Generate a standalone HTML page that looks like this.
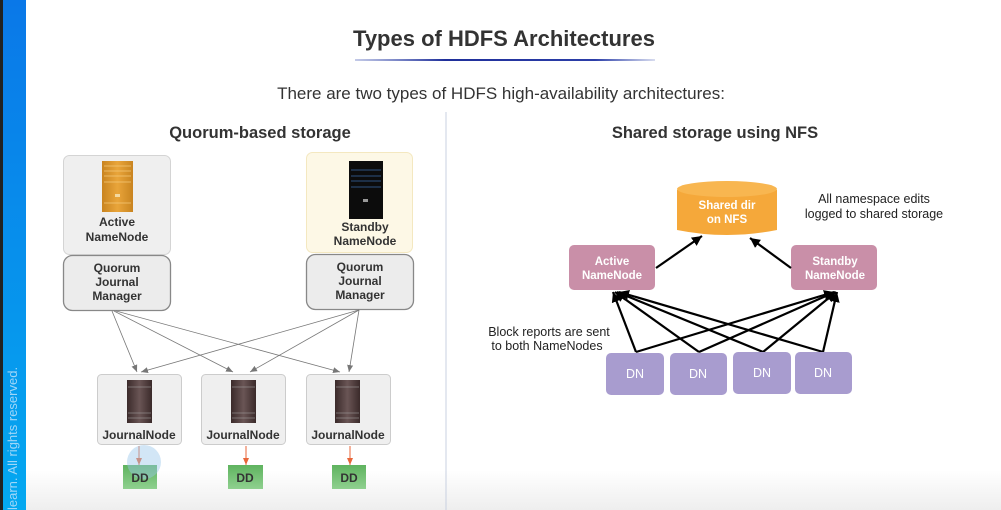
<!DOCTYPE html>
<html><head><meta charset="utf-8"><style>
html,body{margin:0;padding:0;width:1001px;height:510px;overflow:hidden;background:#fff;}
svg{display:block;font-family:"Liberation Sans",sans-serif;}
</style></head><body>
<svg width="1001" height="510" viewBox="0 0 1001 510" xmlns="http://www.w3.org/2000/svg">
<defs>
<linearGradient id="blue" x1="0" y1="0" x2="0" y2="1"><stop offset="0" stop-color="#0a78e8"/><stop offset="1" stop-color="#04a8f0"/></linearGradient>
<linearGradient id="ul" x1="0" x2="1"><stop offset="0" stop-color="#3a4fb0" stop-opacity="0.3"/><stop offset="0.3" stop-color="#1f2f9a"/><stop offset="0.8" stop-color="#2c3ea8"/><stop offset="1" stop-color="#3a4fb0" stop-opacity="0.2"/></linearGradient>
<linearGradient id="bot" x1="0" y1="0" x2="0" y2="1"><stop offset="0" stop-color="#fff"/><stop offset="1" stop-color="#eee"/></linearGradient>
<linearGradient id="orng" x1="0" x2="1"><stop offset="0" stop-color="#c98420"/><stop offset="0.5" stop-color="#e9a53a"/><stop offset="1" stop-color="#c98420"/></linearGradient>
<linearGradient id="jn" x1="0" x2="1"><stop offset="0" stop-color="#3a2a2a"/><stop offset="0.5" stop-color="#6a5555"/><stop offset="1" stop-color="#3a2a2a"/></linearGradient>
<linearGradient id="dd" x1="0" y1="0" x2="0" y2="1"><stop offset="0" stop-color="#5fb35f"/><stop offset="1" stop-color="#8fd08f"/></linearGradient>
<marker id="ag" markerWidth="8" markerHeight="8" refX="7" refY="4" orient="auto" markerUnits="userSpaceOnUse"><path d="M0,1 L7,4 L0,7 Z" fill="#777"/></marker>
<marker id="ao" markerWidth="8" markerHeight="8" refX="7" refY="4" orient="auto" markerUnits="userSpaceOnUse"><path d="M0,1 L7,4 L0,7 Z" fill="#e8663a"/></marker>
<marker id="ab" markerWidth="12" markerHeight="12" refX="10" refY="6" orient="auto" markerUnits="userSpaceOnUse"><path d="M0,1 L10,6 L0,11 Z" fill="#000"/></marker>
</defs>
<rect x="0" y="470" width="1001" height="40" fill="url(#bot)"/>
<rect x="0" y="0" width="3" height="510" fill="#222"/>
<rect x="3" y="0" width="23" height="510" fill="url(#blue)"/>
<text transform="translate(17,510) rotate(-90)" font-size="13" fill="#9fd6f8">learn. All rights reserved.</text>
<line x1="446" y1="112" x2="446" y2="510" stroke="#c8d0e0" stroke-width="1"/>

<text x="504" y="46" text-anchor="middle" font-size="22" font-weight="bold" fill="#333">Types of HDFS Architectures</text>
<rect x="355" y="59" width="300" height="2" fill="url(#ul)"/>
<text x="501" y="99" text-anchor="middle" font-size="17" fill="#333">There are two types of HDFS high-availability architectures:</text>
<text x="260" y="138" text-anchor="middle" font-size="16.5" font-weight="bold" fill="#333">Quorum-based storage</text>
<text x="715" y="138" text-anchor="middle" font-size="16.5" font-weight="bold" fill="#333">Shared storage using NFS</text>

<!-- left -->
<rect x="63.5" y="155.5" width="107" height="99" rx="6" fill="#efefef" stroke="#d4d4d4"/>
<rect x="102" y="161" width="31" height="51" fill="url(#orng)"/>
<g stroke="#f5c878" stroke-width="0.7"><line x1="104" y1="166" x2="131" y2="166"/><line x1="104" y1="171" x2="131" y2="171"/><line x1="104" y1="176" x2="131" y2="176"/><line x1="104" y1="182" x2="131" y2="182"/><line x1="104" y1="203" x2="131" y2="203"/></g>
<rect x="115" y="194" width="5" height="3" fill="#f4d9a0"/>
<text x="117" y="226" text-anchor="middle" font-size="12" font-weight="bold" fill="#333">Active</text>
<text x="117" y="241" text-anchor="middle" font-size="12" font-weight="bold" fill="#333">NameNode</text>
<rect x="63.5" y="255.5" width="107" height="55" rx="9" fill="#ececec" stroke="#888" stroke-width="1.3"/>
<text x="117" y="272" text-anchor="middle" font-size="12" font-weight="bold" fill="#333">Quorum</text>
<text x="117" y="286" text-anchor="middle" font-size="12" font-weight="bold" fill="#333">Journal</text>
<text x="117" y="300" text-anchor="middle" font-size="12" font-weight="bold" fill="#333">Manager</text>

<rect x="306.5" y="152.5" width="106" height="100" rx="6" fill="#fdf8e6" stroke="#f4e8c0"/>
<rect x="349" y="161" width="34" height="58" fill="#0c0c0c"/>
<g stroke="#3a6aa8" stroke-width="0.8"><line x1="351" y1="170" x2="381" y2="170"/><line x1="351" y1="176" x2="381" y2="176"/><line x1="351" y1="181" x2="381" y2="181"/><line x1="351" y1="187" x2="381" y2="187"/></g>
<rect x="363" y="199" width="5" height="3" fill="#999"/>
<text x="365" y="231" text-anchor="middle" font-size="12" font-weight="bold" fill="#333">Standby</text>
<text x="365" y="245" text-anchor="middle" font-size="12" font-weight="bold" fill="#333">NameNode</text>
<rect x="306.5" y="254.5" width="107" height="55" rx="9" fill="#ececec" stroke="#888" stroke-width="1.3"/>
<text x="360" y="271" text-anchor="middle" font-size="12" font-weight="bold" fill="#333">Quorum</text>
<text x="360" y="285" text-anchor="middle" font-size="12" font-weight="bold" fill="#333">Journal</text>
<text x="360" y="299" text-anchor="middle" font-size="12" font-weight="bold" fill="#333">Manager</text>

<g stroke="#777" stroke-width="0.8" fill="none" marker-end="url(#ag)">
<line x1="112" y1="311" x2="137" y2="372"/>
<line x1="114" y1="311" x2="233" y2="372"/>
<line x1="116" y1="311" x2="340" y2="372"/>
<line x1="359" y1="310" x2="141" y2="372"/>
<line x1="359" y1="310" x2="250" y2="372"/>
<line x1="359" y1="310" x2="349" y2="372"/>
</g>

<g id="jns">
<rect x="97.5" y="374.5" width="84" height="70" rx="4" fill="#efefef" stroke="#ccc"/>
<rect x="127" y="380" width="25" height="43" fill="url(#jn)"/>
<rect x="201.5" y="374.5" width="84" height="70" rx="4" fill="#efefef" stroke="#ccc"/>
<rect x="231" y="380" width="25" height="43" fill="url(#jn)"/>
<rect x="306.5" y="374.5" width="84" height="70" rx="4" fill="#efefef" stroke="#ccc"/>
<rect x="335" y="380" width="25" height="43" fill="url(#jn)"/>
</g>
<g stroke="#aaa" stroke-width="0.6">
<line x1="128" y1="387" x2="151" y2="387"/><line x1="128" y1="413" x2="151" y2="413"/><line x1="128" y1="418" x2="151" y2="418"/>
<line x1="232" y1="387" x2="255" y2="387"/><line x1="232" y1="413" x2="255" y2="413"/><line x1="232" y1="418" x2="255" y2="418"/>
<line x1="336" y1="387" x2="359" y2="387"/><line x1="336" y1="413" x2="359" y2="413"/><line x1="336" y1="418" x2="359" y2="418"/>
</g>
<g font-size="12" font-weight="bold" fill="#333" text-anchor="middle">
<text x="139" y="439">JournalNode</text><text x="243" y="439">JournalNode</text><text x="348" y="439">JournalNode</text>
</g>
<g stroke="#e8663a" stroke-width="1" marker-end="url(#ao)">
<line x1="139" y1="446" x2="139" y2="465"/><line x1="246" y1="446" x2="246" y2="465"/><line x1="350" y1="446" x2="350" y2="465"/>
</g>
<rect x="123" y="465" width="34" height="24" fill="url(#dd)"/>
<rect x="228" y="465" width="35" height="24" fill="url(#dd)"/>
<rect x="332" y="465" width="34" height="24" fill="url(#dd)"/>
<circle cx="144" cy="462" r="17" fill="#9cc8ea" opacity="0.45"/>
<g font-size="12" font-weight="bold" fill="#333" text-anchor="middle">
<text x="140" y="482">DD</text><text x="245" y="482">DD</text><text x="349" y="482">DD</text>
</g>

<!-- right -->
<path d="M677,190 L677,230 Q727,240 777,230 L777,190 Z" fill="#f5a83a"/>
<ellipse cx="727" cy="189" rx="50" ry="8" fill="#f8b650"/>
<text x="727" y="209" text-anchor="middle" font-size="11.5" font-weight="bold" fill="#fff">Shared dir</text>
<text x="727" y="223" text-anchor="middle" font-size="11.5" font-weight="bold" fill="#fff">on NFS</text>
<text x="874" y="203" text-anchor="middle" font-size="12.5" fill="#222">All namespace edits</text>
<text x="874" y="218" text-anchor="middle" font-size="12.5" fill="#222">logged to shared storage</text>

<rect x="569" y="245" width="86" height="45" rx="5" fill="#c98fa8"/>
<text x="612" y="265" text-anchor="middle" font-size="11.5" font-weight="bold" fill="#fff">Active</text>
<text x="612" y="279" text-anchor="middle" font-size="11.5" font-weight="bold" fill="#fff">NameNode</text>
<rect x="791" y="245" width="86" height="45" rx="5" fill="#c98fa8"/>
<text x="835" y="265" text-anchor="middle" font-size="11.5" font-weight="bold" fill="#fff">Standby</text>
<text x="835" y="279" text-anchor="middle" font-size="11.5" font-weight="bold" fill="#fff">NameNode</text>

<g stroke="#000" stroke-width="2.2" fill="none" marker-end="url(#ab)">
<line x1="656" y1="268" x2="702" y2="236"/>
<line x1="791" y1="268" x2="750" y2="238"/>
<line x1="636" y1="352" x2="613" y2="292"/>
<line x1="699" y1="352" x2="615" y2="292"/>
<line x1="763" y1="352" x2="617" y2="292"/>
<line x1="823" y1="352" x2="619" y2="292"/>
<line x1="636" y1="352" x2="834" y2="292"/>
<line x1="699" y1="352" x2="835" y2="292"/>
<line x1="763" y1="352" x2="836" y2="292"/>
<line x1="823" y1="352" x2="837" y2="292"/>
</g>
<text x="549" y="336" text-anchor="middle" font-size="12.5" fill="#222">Block reports are sent</text>
<text x="547" y="350" text-anchor="middle" font-size="12.5" fill="#222">to both NameNodes</text>

<g fill="#a89ccf">
<rect x="606" y="353" width="58" height="42" rx="5"/>
<rect x="670" y="353" width="57" height="42" rx="5"/>
<rect x="733" y="352" width="58" height="42" rx="5"/>
<rect x="795" y="352" width="57" height="42" rx="5"/>
</g>
<g font-size="12.5" fill="#fff" text-anchor="middle">
<text x="635" y="378">DN</text><text x="698" y="378">DN</text><text x="762" y="377">DN</text><text x="823" y="377">DN</text>
</g>
</svg>
</body></html>
